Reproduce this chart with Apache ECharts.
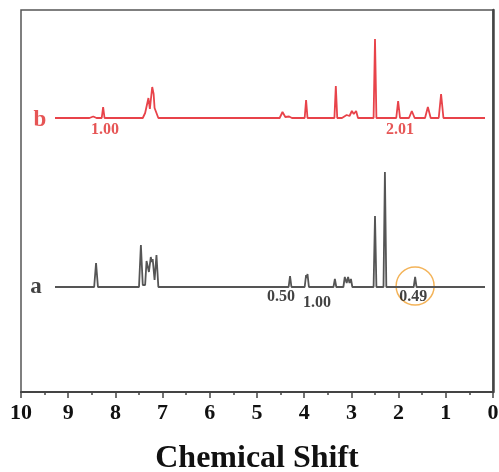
<!DOCTYPE html>
<html><head><meta charset="utf-8">
<script src="https://cdn.jsdelivr.net/npm/echarts@6/dist/echarts.min.js"></script>
<style>html,body{margin:0;padding:0;background:#fff}#c{width:499px;height:472px}</style>
</head><body><div id="c"></div>
<script>
// x ticks (ppm)
const xTicks = [10,9,8,7,6,5,4,3,2,1,0];
// baseline offsets (arbitrary intensity units) of the two traces
const offsetB = 274;
const offsetA = 105;
// spectrum b (red): [ppm, intensity]
const specB = [
 [9.28,0],[8.55,0],[8.47,1.5],[8.40,0],[8.29,0],[8.26,11],[8.23,0],
 [7.42,0],[7.37,5],[7.34,3],[7.30,20],[7.27,9],[7.22,31],[7.19,24],[7.17,10],[7.13,9],[7.09,0],
 [5.76,0],[5.74,1],[5.72,0],
 [4.52,0],[4.46,6],[4.40,1],[4.32,1.5],[4.26,0],
 [3.99,0],[3.96,18],[3.93,0],
 [3.36,0],[3.33,32],[3.30,0],
 [3.20,0],[3.10,3],[3.04,2],[2.99,7],[2.95,4],[2.90,7],[2.86,0],
 [2.53,0],[2.50,79],[2.47,0],
 [2.22,0],[2.20,1.5],[2.18,0],
 [2.05,0],[2.01,17],[1.97,0],
 [1.78,0],[1.72,7],[1.66,0],
 [1.44,0],[1.38,11],[1.32,0],
 [1.15,0],[1.10,24],[1.05,0],
 [0.17,0]
];
// spectrum a (black): [ppm, intensity]
const specA = [
 [9.28,0],[8.45,0],[8.41,24],[8.37,0],
 [7.50,0],[7.46,42],[7.42,2],[7.37,2],[7.34,26],[7.29,15],[7.25,30],[7.23,25],[7.21,28],[7.17,7],[7.13,32],[7.09,0],
 [4.33,0],[4.30,11],[4.27,0],
 [3.99,0],[3.96,12],[3.945,9],[3.93,13],[3.90,0],
 [3.38,0],[3.35,8],[3.32,0],
 [3.17,0],[3.14,10],[3.10,4],[3.07,10],[3.04,4],[3.01,8],[2.98,0],
 [2.53,0],[2.50,71],[2.47,0],
 [2.32,0],[2.29,115],[2.26,0],
 [1.68,0],[1.65,10],[1.62,0],
 [0.17,0]
];
// trace labels
const traceLabels = [["b", 9.60, 272, "#e02a2a"],["a", 9.68, 105, "#111"]];
// integration values
const integB = [["1.00", 8.22, 262],["2.01", 1.97, 262]];
const integA = [["0.50", 4.49, 95],["1.00", 3.73, 89],["0.49", 1.69, 95]];
// highlighted peak
const circled = [[1.65, 106]];

const shift = (arr, off) => arr.map(p => [p[0], p[1] + off]);
const serif = '"Liberation Serif","Times New Roman",serif';

const chart = echarts.init(document.getElementById('c'));
chart.setOption({
  animation: false,
  grid: {left: 21, right: 6, top: 10, bottom: 80, show: true, borderColor: '#555', borderWidth: 1.5,
         outerBoundsMode: 'none', containLabel: false},
  xAxis: {
    type: 'value', min: 0, max: 10, interval: 1, inverse: true,
    axisLine: {show: true, lineStyle: {color: '#444', width: 2}},
    axisTick: {show: true, length: 6, lineStyle: {color: '#444', width: 1.5}},
    minorTick: {show: true, splitNumber: 2, length: 3, lineStyle: {color: '#444', width: 1.5}},
    splitLine: {show: false},
    axisLabel: {color: '#111', fontFamily: serif, fontWeight: 'bold', fontSize: 22, margin: 10},
    name: 'Chemical Shift', nameLocation: 'middle', nameGap: 51,
    nameTextStyle: {color: '#111', fontFamily: serif, fontWeight: 'bold', fontSize: 32}
  },
  yAxis: {
    type: 'value', min: 0, max: 382,
    axisLine: {show: true, lineStyle: {color: '#444', width: 2.5}},
    axisTick: {show: false}, axisLabel: {show: false}, splitLine: {show: false}
  },
  series: [
    {type: 'line', data: shift(specB, offsetB), showSymbol: false, symbol: 'none',
     lineStyle: {color: '#e8434a', width: 1.8}},
    {type: 'line', data: shift(specA, offsetA), showSymbol: false, symbol: 'none',
     lineStyle: {color: '#555', width: 1.8}},
    {type: 'scatter', symbolSize: 0, silent: true,
     data: traceLabels.map(t => ({value: [t[1], t[2]], label: {show: true, position: 'inside', formatter: t[0], color: t[3],
       fontFamily: serif, fontWeight: 'bold', fontSize: 23}}))},
    {type: 'scatter', symbolSize: 0, silent: true,
     data: integB.map(t => ({value: [t[1], t[2]], label: {show: true, position: 'inside', formatter: t[0], color: '#e02a2a',
       fontFamily: serif, fontWeight: 'bold', fontSize: 16}}))},
    {type: 'scatter', symbolSize: 0, silent: true,
     data: integA.map(t => ({value: [t[1], t[2]], label: {show: true, position: 'inside', formatter: t[0], color: '#111',
       fontFamily: serif, fontWeight: 'bold', fontSize: 16}}))},
    {type: 'scatter', symbol: 'circle', symbolSize: 38, silent: true, data: circled,
     itemStyle: {color: 'rgba(0,0,0,0)', borderColor: '#f0a030', borderWidth: 1.5}}
  ]
});
</script></body></html>
